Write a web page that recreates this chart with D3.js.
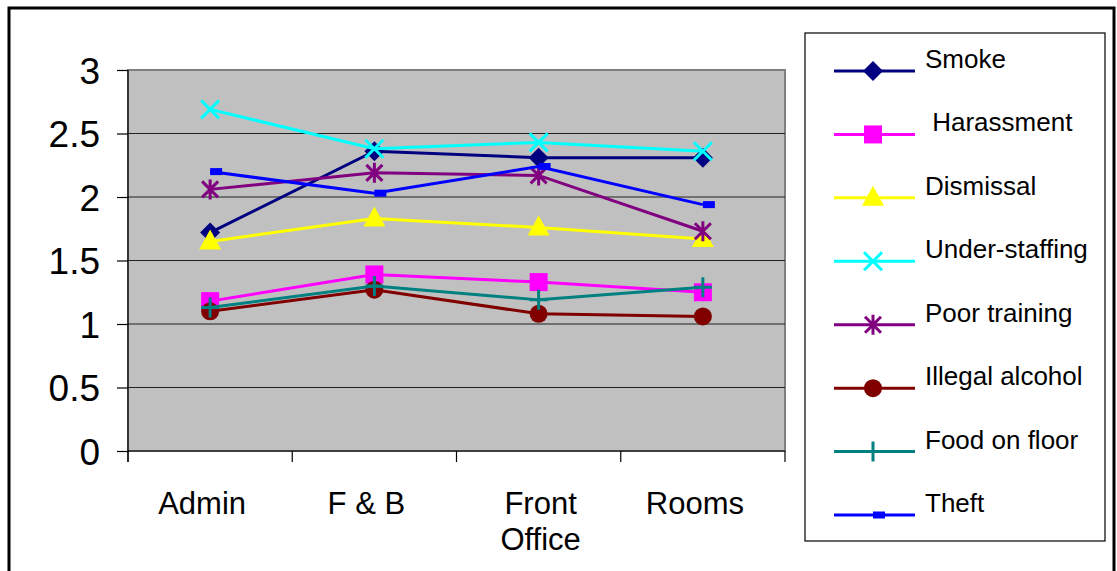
<!DOCTYPE html>
<html><head><meta charset="utf-8">
<script src="https://cdn.jsdelivr.net/npm/d3@7"></script>
<style>body{margin:0;background:#fff;} svg{display:block;font-family:Arial,"Liberation Sans",sans-serif;} text{white-space:pre;}</style>
</head><body>
<svg id="c" width="1117" height="571"></svg>
<script>
const categories = [["Admin"], ["F & B"], ["Front", "Office"], ["Rooms"]];
const seriesNames = ["Smoke", " Harassment", "Dismissal", "Under-staffing", "Poor training", "Illegal alcohol", "Food on floor", "Theft"];
const smoke = [1.72, 2.36, 2.31, 2.31];
const harassment = [1.18, 1.39, 1.33, 1.25];
const dismissal = [1.65, 1.83, 1.76, 1.67];
const understaffing = [2.69, 2.38, 2.43, 2.36];
const poorTraining = [2.06, 2.19, 2.17, 1.73];
const illegalAlcohol = [1.10, 1.27, 1.08, 1.06];
const foodOnFloor = [1.13, 1.30, 1.19, 1.29];
const theft = [2.20, 2.03, 2.24, 1.94];
const yTicks = [0, 0.5, 1, 1.5, 2, 2.5, 3];

const colors = ["#000080", "#FF00FF", "#FFFF00", "#00FFFF", "#800080", "#800000", "#008080", "#0000FF"];
const markers = ["diamond", "square", "triangle", "x", "star", "circle", "plus", "dash"];
const values = [smoke, harassment, dismissal, understaffing, poorTraining, illegalAlcohol, foodOnFloor, theft];

const svg = d3.select("#c");
const L = 128, R = 785, T = 70, B = 451;
const x = d3.scaleBand().domain(d3.range(categories.length)).range([L, R]);
const y = d3.scaleLinear().domain([0, 3]).range([B, T]);

// outer frame
svg.append("rect").attr("x", 9).attr("y", 8).attr("width", 1105).attr("height", 570)
  .attr("fill", "none").attr("stroke", "#000").attr("stroke-width", 3);

// plot area
svg.append("rect").attr("x", L).attr("y", T).attr("width", R - L).attr("height", B - T)
  .attr("fill", "#C0C0C0").attr("stroke", "#808080").attr("stroke-width", 2);

// gridlines
svg.append("g").selectAll("line").data(yTicks.filter(d => d > 0 && d < 3)).join("line")
  .attr("x1", L).attr("x2", R).attr("y1", d => y(d)).attr("y2", d => y(d))
  .attr("stroke", "#202020").attr("stroke-width", 1.2);

// y axis
const ya = svg.append("g").attr("transform", `translate(${L},0)`)
  .call(d3.axisLeft(y).tickValues(yTicks).tickSize(11).tickPadding(17).tickFormat(d3.format("")));
ya.select(".domain").remove();
ya.append("line").attr("x1", 0).attr("x2", 0).attr("y1", T).attr("y2", B + 11).attr("stroke", "#000").attr("stroke-width", 1.2);
ya.selectAll(".tick line").attr("stroke", "#000").attr("stroke-width", 1.2);
ya.selectAll(".tick text").attr("font-size", 37).attr("fill", "#000").attr("font-family", "Arial, 'Liberation Sans', sans-serif")
  .attr("dy", "0.36em");

// x axis
svg.append("line").attr("x1", L).attr("x2", R).attr("y1", B).attr("y2", B).attr("stroke", "#000").attr("stroke-width", 1.2);
svg.append("g").selectAll("line").data(d3.range(categories.length + 1)).join("line")
  .attr("x1", d => L + d * x.step()).attr("x2", d => L + d * x.step())
  .attr("y1", B).attr("y2", B + 11).attr("stroke", "#000").attr("stroke-width", 1.2);
const xl = svg.append("g").selectAll("text").data(categories).join("text")
  .attr("x", (d, i) => x(i) + x.bandwidth() / 2 + (d.length === 1 ? -8 : 2)).attr("y", 514)
  .attr("text-anchor", "middle").attr("font-size", 31).attr("fill", "#000");
xl.selectAll("tspan").data(d => d).join("tspan")
  .attr("x", function() { return d3.select(this.parentNode).attr("x"); })
  .attr("dy", (d, i) => i === 0 ? 0 : 36).text(d => d);

function drawMarker(g, type, color) {
  switch (type) {
    case "diamond":
      g.append("path").attr("d", "M0,-10L10,0L0,10L-10,0Z").attr("fill", color); break;
    case "square":
      g.append("rect").attr("x", -9).attr("y", -9).attr("width", 18).attr("height", 18).attr("fill", color); break;
    case "triangle":
      g.append("path").attr("d", "M0,-12L11,8L-11,8Z").attr("fill", color); break;
    case "x":
      g.append("path").attr("d", "M-9,-9L9,9M-9,9L9,-9").attr("stroke", color).attr("stroke-width", 3).attr("fill", "none"); break;
    case "star":
      g.append("path").attr("d", "M-8,-8L8,8M-8,8L8,-8M0,-10L0,10").attr("stroke", color).attr("stroke-width", 3).attr("fill", "none"); break;
    case "circle":
      g.append("circle").attr("r", 9).attr("fill", color); break;
    case "plus":
      g.append("path").attr("d", "M-9,0L9,0M0,-10L0,10").attr("stroke", color).attr("stroke-width", 3).attr("fill", "none"); break;
    case "dash":
      g.append("rect").attr("x", 0).attr("y", -3.5).attr("width", 12).attr("height", 7).attr("fill", color); break;
  }
}

const line = d3.line().x((d, i) => x(i) + x.bandwidth() / 2).y(d => y(d));
values.forEach((vals, s) => {
  const g = svg.append("g");
  g.append("path").datum(vals).attr("d", line).attr("fill", "none").attr("stroke", colors[s]).attr("stroke-width", 3);
  vals.forEach((v, i) => {
    const m = g.append("g").attr("transform", `translate(${x(i) + x.bandwidth() / 2},${y(v)})`);
    drawMarker(m, markers[s], colors[s]);
  });
});

// legend
svg.append("rect").attr("x", 805).attr("y", 33).attr("width", 300).attr("height", 508)
  .attr("fill", "#fff").attr("stroke", "#000").attr("stroke-width", 1.2);
const ly = d3.scalePoint().domain(d3.range(seriesNames.length)).range([71, 515]);
seriesNames.forEach((name, s) => {
  const g = svg.append("g").attr("transform", `translate(0,${ly(s)})`);
  g.append("line").attr("x1", 834).attr("x2", 915).attr("y1", 0).attr("y2", 0).attr("stroke", colors[s]).attr("stroke-width", 3);
  const m = g.append("g").attr("transform", `translate(873,0)`);
  drawMarker(m, markers[s], colors[s]);
  g.append("text").attr("x", 925).attr("y", -3).attr("font-size", 26).attr("fill", "#000").text(name);
});
</script>
</body></html>
